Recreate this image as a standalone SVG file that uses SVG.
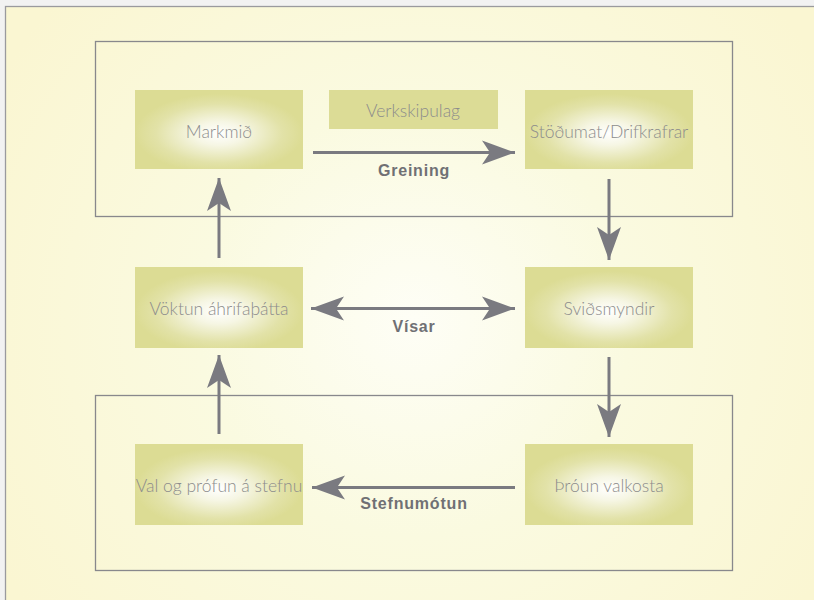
<svg xmlns="http://www.w3.org/2000/svg" width="814" height="600" viewBox="0 0 814 600">
  <defs>
    <radialGradient id="bgGrad" cx="414" cy="320" r="480" gradientUnits="userSpaceOnUse">
      <stop offset="0" stop-color="#fefef6"/>
      <stop offset="0.45" stop-color="#fafae0"/>
      <stop offset="1" stop-color="#faf6d2"/>
    </radialGradient>
    <radialGradient id="nodeGrad" cx="0.5" cy="0.55" r="0.5">
      <stop offset="0" stop-color="#ffffff"/>
      <stop offset="0.3" stop-color="#f6f6e4"/>
      <stop offset="0.75" stop-color="#e2e2a8"/>
      <stop offset="1" stop-color="#dcdc94"/>
    </radialGradient>
    <marker id="head" markerUnits="userSpaceOnUse" markerWidth="36" markerHeight="26" viewBox="-34 -13 36 26" refX="0" refY="0" orient="auto-start-reverse">
      <path d="M0,0 L-33,-12 L-25,0 L-33,12 Z" fill="#7a7a80"/>
    </marker>
    <style>
      .frame { fill: none; stroke: #88888c; stroke-width: 1.3; }
      .node rect { fill: url(#nodeGrad); }
      .node text { font-family: Lato, "Liberation Sans", sans-serif; font-weight: 300; font-size: 17.5px; fill: #8c8c8c; text-anchor: middle; }
      .conn line { stroke: #7a7a80; stroke-width: 3; marker-end: url(#head); }
      .lbl { font-family: "Liberation Sans", Arial, sans-serif; font-weight: bold; font-size: 16px; fill: #707074; text-anchor: middle; letter-spacing: 0.8px; }
    </style>
  </defs>

  <!-- page and background panel -->
  <rect x="0" y="0" width="814" height="600" fill="#f2f2f2"/>
  <rect x="5.5" y="6.5" width="820" height="600" fill="url(#bgGrad)" stroke="#9a9a9e" stroke-width="1.3"/>

  <!-- phase frames -->
  <rect class="frame" x="95.5" y="41.5" width="637" height="175"/>
  <rect class="frame" x="95.5" y="395.5" width="637" height="175"/>

  <!-- nodes -->
  <g id="markmid" class="node">
    <rect x="135" y="90" width="168" height="79"/>
    <text x="219" y="138">Markmið</text>
  </g>
  <g id="verkskipulag" class="node">
    <rect x="329" y="90" width="169" height="39" style="fill:#dcdc96"/>
    <text x="413" y="117">Verkskipulag</text>
  </g>
  <g id="stodumat" class="node">
    <rect x="525" y="90" width="168" height="79"/>
    <text x="609" y="138">Stöðumat/Drifkrafrar</text>
  </g>
  <g id="voktun" class="node">
    <rect x="135" y="267" width="168" height="81"/>
    <text x="219" y="315">Vöktun áhrifaþátta</text>
  </g>
  <g id="svidsmyndir" class="node">
    <rect x="525" y="267" width="168" height="81"/>
    <text x="609" y="315">Sviðsmyndir</text>
  </g>
  <g id="val" class="node">
    <rect x="135" y="444" width="168" height="81"/>
    <text x="219" y="492">Val og prófun á stefnu</text>
  </g>
  <g id="throun" class="node">
    <rect x="525" y="444" width="168" height="81"/>
    <text x="609" y="492">Þróun valkosta</text>
  </g>

  <!-- connectors -->
  <g id="connectors" class="conn">
    <line x1="313" y1="152.5" x2="515" y2="152.5"/>
    <line x1="609" y1="179" x2="609" y2="260"/>
    <line x1="609" y1="357" x2="609" y2="437"/>
    <line x1="515" y1="487.5" x2="312" y2="487.5"/>
    <line x1="219" y1="434" x2="219" y2="355"/>
    <line x1="219" y1="258" x2="219" y2="178"/>
    <line x1="311" y1="308.5" x2="515" y2="308.5" style="marker-start:url(#head)"/>
    <text class="lbl" x="414" y="176">Greining</text>
    <text class="lbl" x="414" y="332">Vísar</text>
    <text class="lbl" x="414" y="509">Stefnumótun</text>
  </g>
</svg>
